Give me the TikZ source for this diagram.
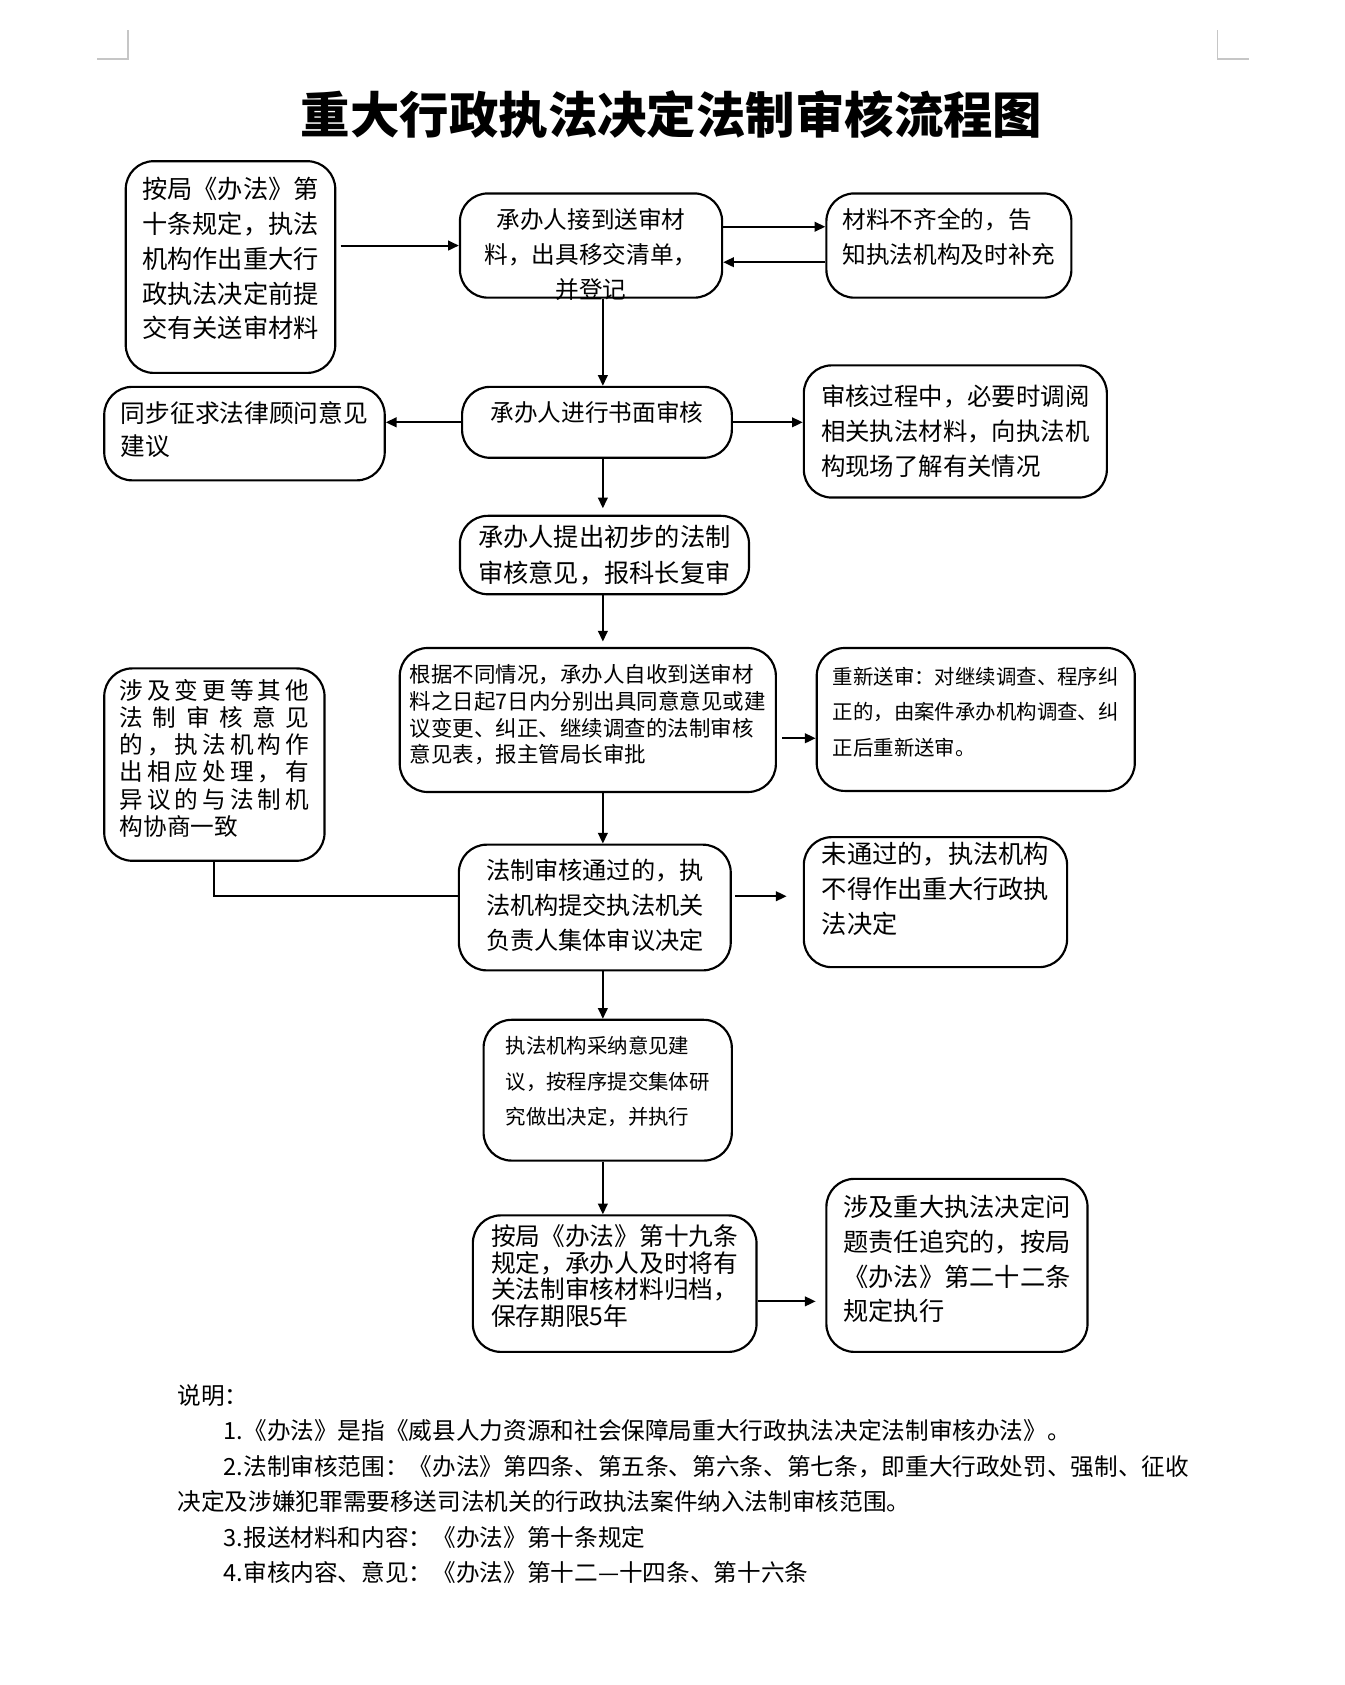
\documentclass[tikz,border=0pt]{standalone}
\usepackage{fontspec}
\setmainfont{Noto Sans CJK SC}
\usetikzlibrary{arrows.meta, positioning, calc}

% spread the characters of one line over a fixed width
\newcommand\spreadline[1]{\makebox[176pt][s]{\spreadfirst#1\relax}}
\def\spreadfirst#1{#1\spreadtok}
\def\spreadtok#1{\ifx\relax#1\else\hfil#1\expandafter\spreadtok\fi}

\begin{document}
\begin{tikzpicture}[x=1pt, y=-1pt,
    box/.style={draw, line width=2pt, rounded corners=26pt, inner sep=0pt},
    txt/.style 2 args={font=\fontsize{#1}{#2}\selectfont, align=left, inner sep=0pt},
    arr/.style={line width=1.8pt, -{Triangle[length=10pt,width=9pt]}},
    link/.style={line width=1.8pt}]
    \useasboundingbox (0,0) rectangle (1251,1568);

    \draw[gray!45, line width=1.3pt] (119,28) -- (119,55) -- (90,55);
    \draw[gray!45, line width=1.3pt] (1133,28) -- (1133,55) -- (1162,55);

    \node[font=\fontsize{46}{50}\selectfont\bfseries] (title) at (625,107) {重大行政执法决定法制审核流程图};

    \node[box, minimum width=195pt, minimum height=197pt] (submit) at (214.5,248.5) {};
    \node[box, minimum width=244pt, minimum height=97pt] (receive) at (550,228.5) {};
    \node[box, minimum width=228pt, minimum height=97pt] (incomplete) at (883,228.5) {};
    \node[box, minimum width=251pt, minimum height=66pt] (review) at (555.5,393) {};
    \node[box, minimum width=261pt, minimum height=87pt] (counsel) at (227.5,403.5) {};
    \node[box, minimum width=282pt, minimum height=123pt] (consult) at (889,401.5) {};
    \node[box, minimum width=269pt, minimum height=73pt] (opinion) at (562.5,516.5) {};
    \node[box, minimum width=350pt, minimum height=134pt] (decide) at (547,670) {};
    \node[box, minimum width=296pt, minimum height=133pt] (resend) at (908,669.5) {};
    \node[box, minimum width=205pt, minimum height=179pt] (change) at (199.5,711.5) {};
    \node[box, minimum width=253pt, minimum height=117pt] (approve) at (553.5,844.5) {};
    \node[box, minimum width=245pt, minimum height=121pt] (reject) at (870.5,839.5) {};
    \node[box, minimum width=231pt, minimum height=131pt] (adopt) at (565.5,1014.5) {};
    \node[box, minimum width=264pt, minimum height=127pt] (archive) at (572,1194.5) {};
    \node[box, minimum width=243pt, minimum height=161pt] (liability) at (890.5,1177.5) {};

    \node[txt={23.5}{32.5}] (submit-text) at ([yshift=8pt]submit.center)
        {按局《办法》第\\十条规定，执法\\机构作出重大行\\政执法决定前提\\交有关送审材料};
    \node[txt={22}{32.5}, align=center] (receive-text) at ([yshift=-8pt]receive.center)
        {承办人接到送审材\\料，出具移交清单，\\并登记};
    \node[txt={22}{32.5}] (incomplete-text) at ([yshift=8pt]incomplete.center)
        {材料不齐全的，告\\知执法机构及时补充};
    \node[txt={22}{32.5}] (review-text) at ([yshift=9pt]review.center)
        {承办人进行书面审核};
    \node[txt={23}{31}] (counsel-text) at ([yshift=4pt]counsel.center)
        {同步征求法律顾问意见\\建议};
    \node[txt={22.7}{32.5}] (consult-text) at (consult.center)
        {审核过程中，必要时调阅\\相关执法材料，向执法机\\构现场了解有关情况};
    \node[txt={23.5}{33}] (opinion-text) at (opinion.center)
        {承办人提出初步的法制\\审核意见，报科长复审};
    \node[txt={20}{25}] (decide-text) at ([yshift=5pt]decide.center)
        {根据不同情况，承办人自收到送审材\\料之日起7日内分别出具同意意见或建\\议变更、纠正、继续调查的法制审核\\意见表，报主管局长审批};
    \node[txt={19}{33}] (resend-text) at ([yshift=7pt]resend.center)
        {重新送审：对继续调查、程序纠\\正的，由案件承办机构调查、纠\\正后重新送审。};
    \node[txt={22}{25.3}] (change-text) at ([yshift=6pt]change.center)
        {\spreadline{涉及变更等其他}\\\spreadline{法制审核意见}\\\spreadline{的，执法机构作}\\\spreadline{出相应处理，有}\\\spreadline{异议的与法制机}\\构协商一致};
    \node[txt={22.5}{32.5}, align=center] (approve-text) at ([yshift=2pt]approve.center)
        {法制审核通过的，执\\法机构提交执法机关\\负责人集体审议决定};
    \node[txt={23.5}{32.5}] (reject-text) at ([yshift=12pt]reject.center)
        {未通过的，执法机构\\不得作出重大行政执\\法决定};
    \node[txt={19}{33}] (adopt-text) at ([yshift=8pt]adopt.center)
        {执法机构采纳意见建\\议，按程序提交集体研\\究做出决定，并执行};
    \node[txt={23}{24.7}] (archive-text) at ([yshift=7pt]archive.center)
        {按局《办法》第十九条\\规定，承办人及时将有\\关法制审核材料归档，\\保存期限5年};
    \node[txt={23.5}{32.5}] (liability-text) at ([yshift=6pt]liability.center)
        {涉及重大执法决定问\\题责任追究的，按局\\《办法》第二十二条\\规定执行};

    \coordinate (spine) at (561,0);
    \draw[arr, shorten <=4pt] (submit.east |- receive.west) -- (receive.west);
    \draw[arr] ([yshift=17.5pt]receive.east) -- ([yshift=17.5pt]receive.east -| incomplete.west);
    \draw[arr] ([yshift=-15.5pt]incomplete.west) -- ([yshift=-15.5pt]incomplete.west -| receive.east);
    \draw[arr] (receive.south -| spine) -- (review.north -| spine);
    \draw[arr] (review.west) -- (review.west -| counsel.east);
    \draw[arr] (review.east) -- (review.east -| consult.west);
    \draw[arr, shorten >=6pt] (review.south -| spine) -- (opinion.north -| spine);
    \draw[arr, shorten >=5pt] (opinion.south -| spine) -- (decide.north -| spine);
    \draw[arr, shorten <=5pt] ([yshift=-17pt]decide.east) -- ([yshift=-17pt]decide.east -| resend.west);
    \draw[arr] (decide.south -| spine) -- (approve.north -| spine);
    \draw[link] (change.south) |- ([yshift=10.5pt]approve.west);
    \draw[arr, shorten <=3pt, shorten >=15pt] ([yshift=10.5pt]approve.east) -- ([yshift=10.5pt]approve.east -| reject.west);
    \draw[arr] (approve.south -| spine) -- (adopt.north -| spine);
    \draw[arr] (adopt.south -| spine) -- (archive.north -| spine);
    \draw[arr, shorten >=9pt] ([yshift=-16.5pt]archive.east) -- ([yshift=-16.5pt]archive.east -| liability.west);

    \node[anchor=north west, txt={22}{33}] (notes) at (165,1288)
        {说明：\\
        \hspace*{43pt}1.《办法》是指《威县人力资源和社会保障局重大行政执法决定法制审核办法》。\\
        \hspace*{43pt}2.法制审核范围：《办法》第四条、第五条、第六条、第七条，即重大行政处罚、强制、征收\\
        决定及涉嫌犯罪需要移送司法机关的行政执法案件纳入法制审核范围。\\
        \hspace*{43pt}3.报送材料和内容：《办法》第十条规定\\
        \hspace*{43pt}4.审核内容、意见：《办法》第十二—十四条、第十六条};
\end{tikzpicture}
\end{document}
